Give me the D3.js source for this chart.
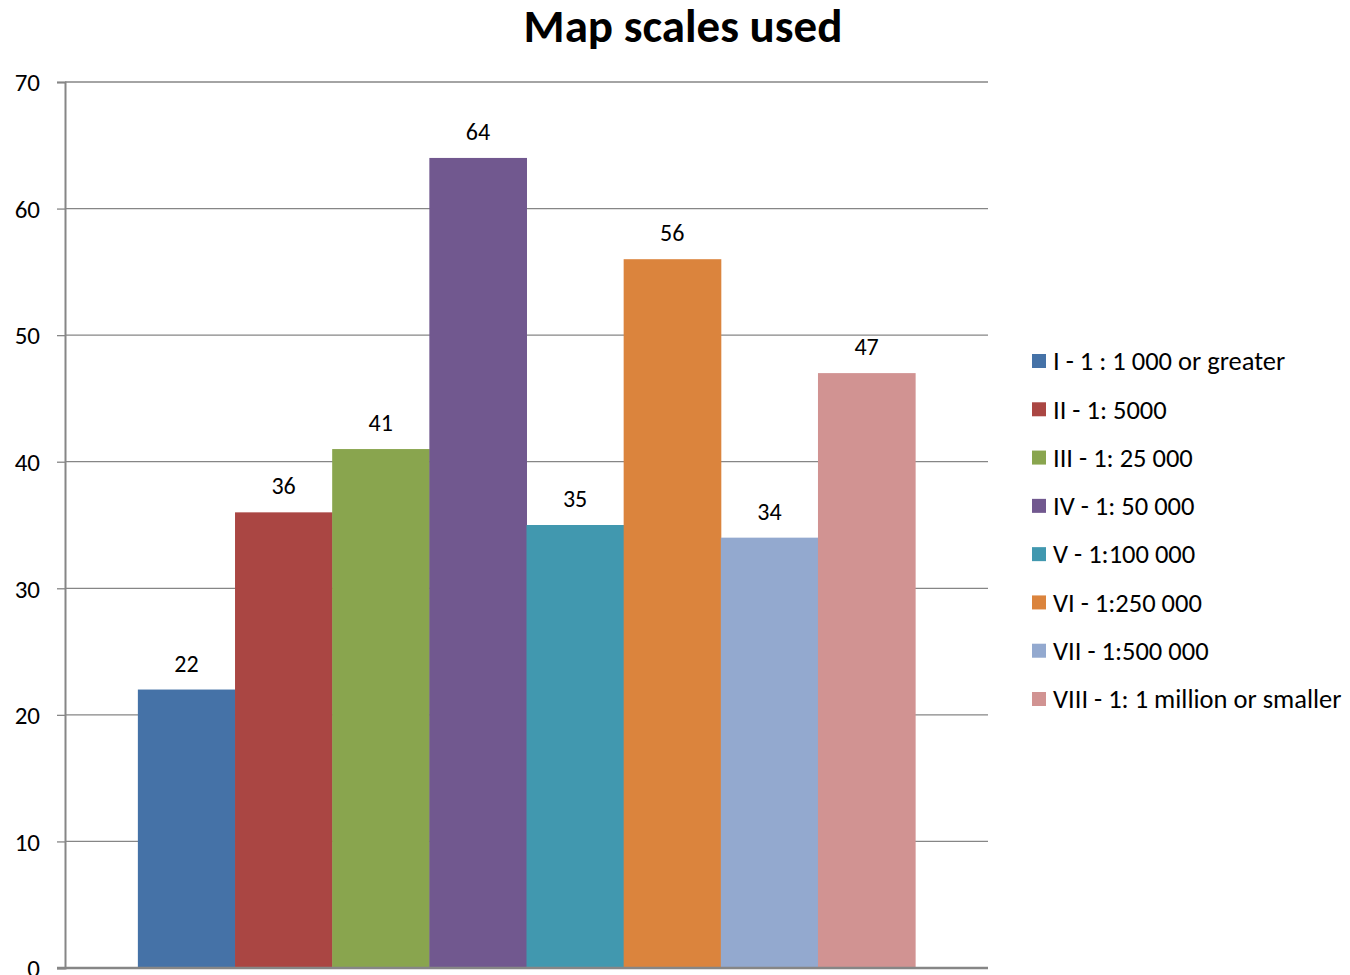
<!DOCTYPE html>
<html>
<head>
<meta charset="utf-8">
<script src="https://cdn.jsdelivr.net/npm/d3@7/dist/d3.min.js"></script>
<style>
  html, body { margin: 0; padding: 0; background: #fff; }
  svg { display: block; }
  text { font-family: Carlito, Calibri, Lato, "Open Sans", sans-serif; fill: #000; }
</style>
</head>
<body>
<svg id="chart" width="1350" height="975"></svg>
<script>
const title = "Map scales used";
const seriesNames = [
  "I - 1 : 1 000 or greater",
  "II - 1: 5000",
  "III - 1: 25 000",
  "IV - 1: 50 000",
  "V - 1:100 000",
  "VI - 1:250 000",
  "VII - 1:500 000",
  "VIII - 1: 1 million or smaller"
];
const seriesValues = [22, 36, 41, 64, 35, 56, 34, 47];
const seriesColors = ["#4572A7", "#AA4643", "#89A54E", "#71588F", "#4198AF", "#DB843D", "#93A9CF", "#D19392"];
const yTicks = [0, 10, 20, 30, 40, 50, 60, 70];

const svg = d3.select("#chart");
const plot = { left: 65, right: 988, top: 82, bottom: 968 };

const x = d3.scaleBand()
  .domain(seriesNames)
  .range([plot.left, plot.right])
  .paddingInner(0)
  .paddingOuter(0.75);

const y = d3.scaleLinear().domain([0, 70]).range([plot.bottom, plot.top]);

// gridlines
svg.append("g")
  .selectAll("line")
  .data(yTicks.filter(d => d > 0))
  .join("line")
  .attr("x1", plot.left).attr("x2", plot.right)
  .attr("y1", d => y(d)).attr("y2", d => y(d))
  .attr("stroke", "#868686").attr("stroke-width", 1.3);

// bars
svg.append("g")
  .selectAll("rect")
  .data(seriesNames)
  .join("rect")
  .attr("x", d => x(d))
  .attr("width", x.bandwidth() + 0.5)
  .attr("y", (d, i) => y(seriesValues[i]))
  .attr("height", (d, i) => y(0) - y(seriesValues[i]))
  .attr("fill", (d, i) => seriesColors[i]);

// y axis
const yAxis = d3.axisLeft(y).tickValues(yTicks).tickSize(8).tickPadding(17).tickFormat(d3.format("d"));
const gy = svg.append("g").attr("transform", `translate(${plot.left},0)`).call(yAxis);
gy.select(".domain").attr("stroke", "#868686").attr("stroke-width", 2);
gy.selectAll(".tick line").attr("stroke", "#868686").attr("stroke-width", 1.3);
gy.selectAll(".tick text").attr("font-size", 25).attr("font-family", "Carlito, Calibri, Lato, sans-serif").attr("fill", "#000").attr("dy", "0.35em");

// x axis line
svg.append("line")
  .attr("x1", plot.left - 8).attr("x2", plot.right)
  .attr("y1", plot.bottom).attr("y2", plot.bottom)
  .attr("stroke", "#868686").attr("stroke-width", 2.5);

// data labels
svg.append("g")
  .selectAll("text")
  .data(seriesNames)
  .join("text")
  .attr("x", d => x(d) + x.bandwidth() / 2)
  .attr("y", (d, i) => y(seriesValues[i]) - 18)
  .attr("text-anchor", "middle")
  .attr("font-size", 24)
  .text((d, i) => seriesValues[i]);

// title
svg.append("text")
  .attr("x", 683).attr("y", 42)
  .attr("text-anchor", "middle")
  .attr("font-size", 47)
  .attr("font-weight", "bold")
  .text(title);

// legend
const legend = svg.append("g");
const rowY = d3.scaleLinear().domain([0, 7]).range([361, 699]);
const items = legend.selectAll("g")
  .data(seriesNames)
  .join("g")
  .attr("transform", (d, i) => `translate(1032,${rowY(i)})`);
items.append("rect")
  .attr("x", 0).attr("y", -7).attr("width", 14).attr("height", 14)
  .attr("fill", (d, i) => seriesColors[i]);
items.append("text")
  .attr("x", 21).attr("y", 0).attr("dy", "0.35em")
  .attr("font-size", 26.5)
  .text(d => d);
</script>
</body>
</html>
